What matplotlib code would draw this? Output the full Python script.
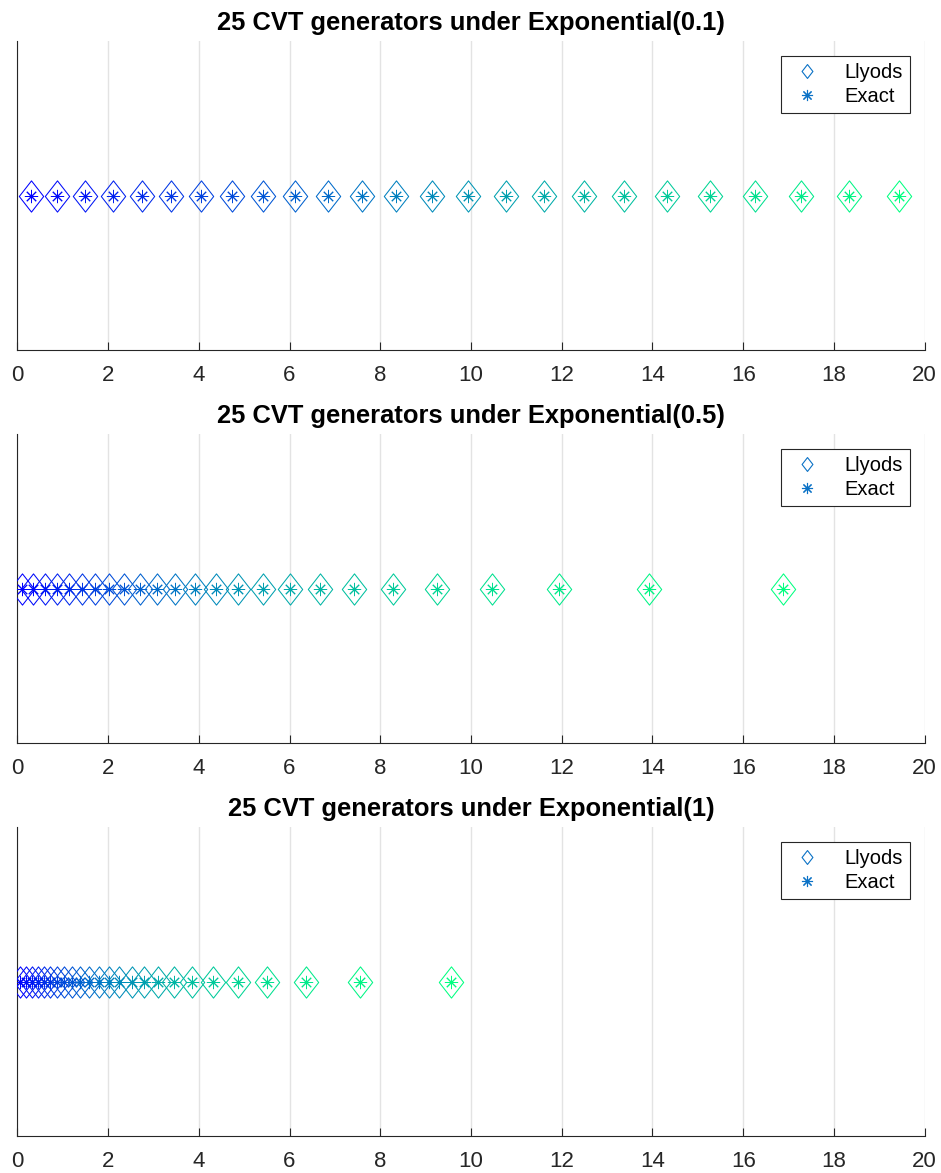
import numpy as np
import matplotlib.pyplot as plt
from matplotlib.lines import Line2D
from matplotlib.path import Path

plt.rcParams['font.family'] = ['Liberation Sans', 'DejaVu Sans']

# CVT generator locations (Lloyd iteration and exact solution coincide)
gens_01 = [0.295, 0.882, 1.499, 2.116, 2.749, 3.394, 4.056, 4.732, 5.422,
           6.127, 6.855, 7.597, 8.354, 9.147, 9.941, 10.77, 11.62, 12.49,
           13.38, 14.31, 15.27, 16.25, 17.27, 18.33, 19.43]
gens_05 = [0.097, 0.353, 0.611, 0.868, 1.140, 1.419, 1.719, 2.028, 2.358,
           2.711, 3.086, 3.483, 3.917, 4.380, 4.871, 5.415, 6.011, 6.672,
           7.421, 8.274, 9.257, 10.456, 11.94, 13.92, 16.88]
gens_1 = [0.068, 0.190, 0.315, 0.447, 0.584, 0.727, 0.875, 1.029, 1.206,
          1.389, 1.587, 1.794, 2.015, 2.248, 2.528, 2.799, 3.101, 3.447,
          3.857, 4.307, 4.858, 5.510, 6.363, 7.547, 9.553]

rates = ['0.1', '0.5', '1']
lloyd = [gens_01, gens_05, gens_1]
exact = [gens_01, gens_05, gens_1]
xticks = np.arange(0, 21, 2)

# MATLAB-style diamond (wider than matplotlib's thin diamond)
diamond = Path([(0, 1), (0.78, 0), (0, -1), (-0.78, 0), (0, 1)],
               [Path.MOVETO, Path.LINETO, Path.LINETO, Path.LINETO, Path.CLOSEPOLY])
asterisk = (8, 2, 0)

fig = plt.figure(figsize=(9.41, 11.73), dpi=100)
bottoms = [1 - 350 / 1173, 1 - 743 / 1173, 1 - 1136 / 1173]

for k in range(3):
    ax = fig.add_axes([17.3 / 941, bottoms[k], 907.4 / 941, 309 / 1173])
    n = len(lloyd[k])
    colors = plt.cm.winter(np.linspace(0, 1, n))
    for i in range(n):
        ax.plot(lloyd[k][i], 0, marker=diamond, ms=22.5, mfc='none',
                mec=colors[i], mew=0.75, ls='none', zorder=3)
    for i in range(n):
        ax.plot(exact[k][i], 0, marker=asterisk, ms=9.5, mec=colors[i],
                mew=0.7, ls='none', zorder=4)

    ax.set_xlim(0, 20)
    ax.set_ylim(-1, 1)
    ax.set_xticks(xticks)
    ax.set_yticks([])
    ax.tick_params(axis='x', direction='in', length=6, width=0.8,
                   labelsize=16, pad=11, color='#262626', labelcolor='#262626')
    ax.xaxis.grid(True, color='#e3e3e3', lw=1)
    ax.set_axisbelow(True)
    for s in ['top', 'right']:
        ax.spines[s].set_visible(False)
    for s in ['left', 'bottom']:
        ax.spines[s].set_color('#262626')
        ax.spines[s].set_linewidth(0.8)
    ax.set_title(f'25 CVT generators under Exponential({rates[k]})',
                 fontsize=18.4, fontweight='bold', pad=8)

    handles = [
        Line2D([], [], marker=diamond, ms=10, mfc='none', mec='#0b72c6',
               mew=0.8, ls='none'),
        Line2D([], [], marker=asterisk, ms=8, mec='#0b72c6', mew=0.8, ls='none'),
    ]
    leg = ax.legend(handles, ['Llyods', 'Exact'], loc='upper right',
                    fontsize=14.5, frameon=True, fancybox=False,
                    edgecolor='#262626', framealpha=1, borderpad=0.35,
                    labelspacing=0.25, handletextpad=0.9, borderaxespad=0.75,
                    handlelength=1.9)
    leg.get_frame().set_linewidth(0.8)

fig.savefig('out.png', dpi=100)
